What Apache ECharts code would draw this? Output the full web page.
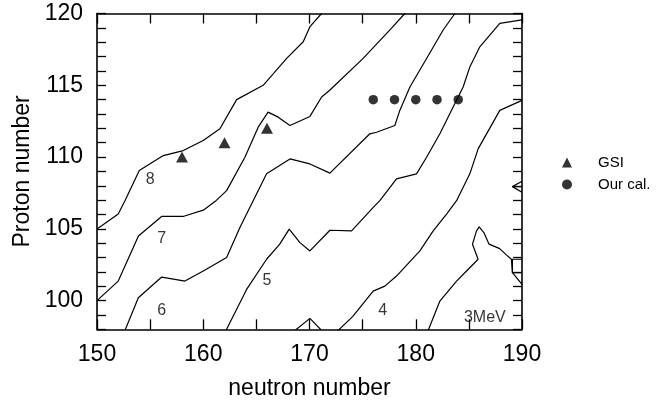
<!DOCTYPE html>
<html>
<head>
<meta charset="utf-8">
<script src="https://cdn.jsdelivr.net/npm/echarts@6/dist/echarts.min.js"></script>
<style>
html,body{margin:0;padding:0;background:#fff;}
#chart{width:659px;height:407px;}
</style>
</head>
<body>
<div id="chart"></div>
<script>
// ---- data (neutron number N, proton number Z) ----
var contour8 = [[150,104.98],[152.0,106.03],[152.63,106.96],[153.98,109.06],[156.24,110.1],[158.12,110.45],[160.0,111.15],[161.57,111.97],[163.14,114.0],[165.64,115.0],[167.85,116.87],[169.41,118.03],[170.04,119.08],[171.14,120]];
var contour7 = [[150,100.0],[152.0,101.36],[153.9,104.5],[156.08,105.86],[158.1,105.86],[160.0,106.3],[161.2,106.96],[162.2,107.66],[163.92,109.99],[165.17,112.08],[166.1,113.13],[167.06,112.78],[168.16,112.2],[170.04,112.83],[171.14,114.18],[171.9,114.65],[175.05,116.87],[177.7,118.96],[178.97,120]];
var contour6 = [[152.63,97.92],[153.89,100.2],[156.09,101.64],[158.28,101.36],[160.0,102.06],[162.2,103.0],[163.45,105.09],[164.7,106.96],[165.96,108.83],[168.16,109.87],[170.04,109.52],[171.92,108.88],[175.68,111.62],[176.31,111.73],[178.03,112.2],[178.5,113.25],[179.45,114.88],[181.02,116.87],[182.58,118.85],[183.68,120]];
var contour5 = [[162.14,97.92],[164.08,100.78],[165.96,102.88],[167.2,103.93],[168.09,104.98],[169.1,104.04],[170.04,103.46],[171.92,104.9],[173.96,104.86],[176.0,106.49],[176.62,106.96],[178.19,108.48],[180.07,108.83],[181.02,109.99],[182.27,111.62],[183.52,113.48],[184.46,114.88],[185.09,116.28],[186.03,117.68],[187.91,119.31],[190,119.55]];
var contour4 = [[172.7,97.92],[174.1,98.92],[175.99,100.66],[177.09,101.01],[178.19,101.71],[180.39,103.46],[181.64,104.86],[182.9,106.03],[183.84,106.96],[185.09,108.83],[185.87,110.57],[187.91,113.25],[190,113.95]];
var contour3 = [[181.17,97.92],[182.27,99.97],[183.84,101.36],[184.78,102.06],[185.87,102.88],[185.34,103.93],[185.72,104.86],[185.97,105.14],[186.41,104.74],[186.9,103.93],[187.9,103.62],[188.5,103.2],[189.0,102.88],[189.1,101.94],[190,101.13]];
var bumpAt170 = [[168.63,97.92],[170.04,98.76],[171.14,97.92]];
var edgeBox = [[190,102.88],[189.1,102.88],[189.1,101.94],[190,101.94]];
var edgeTriangle = [[190,108.31],[189.1,107.94],[190,107.54]];
var edgeTriangleMid = [[189.1,107.94],[190,107.94]];

var gsiN = [158,162,166];
var gsiZ = [110,111,112];
var ourN = [176,178,180,182,184];
var ourZ = [114,114,114,114,114];

var contourLabels = [[155.0,108.4,'8'],[156.1,104.35,'7'],[156.1,99.3,'6'],[166.0,101.36,'5'],[176.9,99.3,'4'],[186.5,98.8,'3MeV']];

var xTickLabels = [150,160,170,180,190];
var yTickLabels = [100,105,110,115,120];

// ---- chart ----
var FONT = 'Liberation Sans, Arial, Helvetica, sans-serif';
var chart = echarts.init(document.getElementById('chart'), null, {renderer:'canvas'});

function lineSeries(data){
  return {type:'line', data:data, showSymbol:false, symbol:'none', silent:true,
    lineStyle:{color:'#000', width:1.2}, clip:true, z:2, animation:false};
}
function zip(a,b){ return a.map(function(v,i){return [v,b[i]];}); }

var axisCommonX = {
  type:'value', min:150, max:190, interval:5,
  axisLine:{show:true, onZero:false, lineStyle:{color:'#000', width:1.6}},
  axisTick:{show:true, inside:true, length:10, lineStyle:{color:'#000', width:1.3}},
  splitLine:{show:false}
};
var axisCommonY = {
  type:'value', min:98, max:120, interval:1,
  axisLine:{show:true, onZero:false, lineStyle:{color:'#000', width:1.6}},
  axisTick:{show:true, inside:true, length:9, lineStyle:{color:'#000', width:1.3}},
  splitLine:{show:false}
};

var option = {
  backgroundColor:'#fff',
  animation:false,
  grid:{left:97, right:137, top:13.5, bottom:77.7, containLabel:false},
  xAxis:[
    Object.assign({}, axisCommonX, {
      position:'bottom',
      name:'neutron number', nameLocation:'middle', nameGap:48,
      nameTextStyle:{fontSize:23, fontFamily:FONT, color:'#000'},
      axisLabel:{show:true, margin:14, fontSize:23, fontFamily:FONT, color:'#000',
        formatter:function(v){ return xTickLabels.indexOf(v) >= 0 ? String(v) : ''; }}
    }),
    Object.assign({}, axisCommonX, {position:'top', axisLabel:{show:false}})
  ],
  yAxis:[
    Object.assign({}, axisCommonY, {
      position:'left',
      name:'Proton number', nameLocation:'middle', nameGap:62,
      nameTextStyle:{fontSize:23, fontFamily:FONT, color:'#000'},
      axisLabel:{show:true, margin:14, fontSize:23, fontFamily:FONT, color:'#000',
        formatter:function(v){ return yTickLabels.indexOf(v) >= 0 ? String(v) : ''; }}
    }),
    Object.assign({}, axisCommonY, {position:'right', axisLabel:{show:false}})
  ],
  legend:{
    orient:'vertical', left:557, top:150,
    itemWidth:10, itemHeight:10, itemGap:7,
    textStyle:{fontSize:15, fontFamily:FONT, color:'#000', padding:[0,0,0,21]},
    data:[{name:'GSI', icon:'triangle'},{name:'Our cal.', icon:'circle'}]
  },
  series:[
    lineSeries(contour8), lineSeries(contour7), lineSeries(contour6),
    lineSeries(contour5), lineSeries(contour4), lineSeries(contour3),
    lineSeries(bumpAt170), lineSeries(edgeBox), lineSeries(edgeTriangle), lineSeries(edgeTriangleMid),
    {type:'scatter', name:'GSI', symbol:'triangle', symbolSize:[12,11], data:zip(gsiN,gsiZ),
      itemStyle:{color:'#000'}, z:5},
    {type:'scatter', name:'Our cal.', symbol:'circle', symbolSize:9.5, data:zip(ourN,ourZ),
      itemStyle:{color:'#000'}, z:5},
    {type:'scatter', symbolSize:0, silent:true, data:contourLabels, z:4,
      itemStyle:{color:'#000'},
      label:{show:true, position:'inside', fontSize:16, fontFamily:FONT, color:'#000',
        formatter:function(p){ return p.data[2]; }}}
  ]
};
chart.setOption(option);
</script>
</body>
</html>
